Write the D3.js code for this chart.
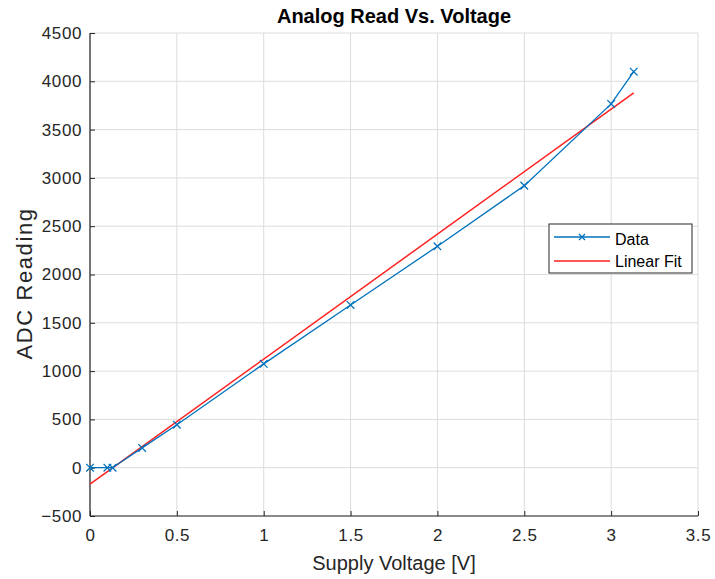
<!DOCTYPE html>
<html>
<head>
<meta charset="utf-8">
<script src="https://cdn.jsdelivr.net/npm/d3@7"></script>
<style>
  html, body { margin: 0; padding: 0; background: #fff; }
  svg { display: block; font-family: "Liberation Sans", Arial, sans-serif; }
</style>
</head>
<body>
<svg id="chart" width="715" height="579"></svg>
<script>
// Measured supply voltage vs. ADC reading
const voltage = [0, 0.1, 0.13, 0.3, 0.5, 1, 1.5, 2, 2.5, 3, 3.13];
const adc     = [0, 0, 0, 205, 445, 1075, 1685, 2292, 2920, 3766, 4100];

// Linear fit endpoints
const fitVoltage = [0, 3.13];
const fitAdc     = [-170, 3880];

const xTicks = [0, 0.5, 1, 1.5, 2, 2.5, 3, 3.5];
const yTicks = [-500, 0, 500, 1000, 1500, 2000, 2500, 3000, 3500, 4000, 4500];

const legendLabels = ["Data", "Linear Fit"];
const colors = { data: "#0072BD", fit: "#FF2020" };

const svg = d3.select("#chart");
const m = { left: 90, right: 17, top: 33, bottom: 63 };
const W = 715, H = 579;

const x = d3.scaleLinear().domain([0, 3.5]).range([m.left, W - m.right]);
const y = d3.scaleLinear().domain([-500, 4500]).range([H - m.bottom, m.top]);

// grid
const grid = svg.append("g");
grid.selectAll("line.gx").data(xTicks).join("line")
  .attr("x1", d => x(d)).attr("x2", d => x(d))
  .attr("y1", y(-500)).attr("y2", y(4500))
  .attr("stroke", "#dcdcdc").attr("stroke-width", 1);
grid.selectAll("line.gy").data(yTicks).join("line")
  .attr("x1", x(0)).attr("x2", x(3.5))
  .attr("y1", d => y(d)).attr("y2", d => y(d))
  .attr("stroke", "#dcdcdc").attr("stroke-width", 1);

// axes
const xAxis = d3.axisBottom(x).tickValues(xTicks).tickSize(-5).tickPadding(13)
  .tickFormat(d3.format("~g"));
const yAxis = d3.axisLeft(y).tickValues(yTicks).tickSize(-5).tickPadding(8)
  .tickFormat(d3.format("d"));

const gx = svg.append("g").attr("transform", `translate(0,${y(-500)})`).call(xAxis);
const gy = svg.append("g").attr("transform", `translate(${x(0)},0)`).call(yAxis);
[gx, gy].forEach(g => {
  g.select(".domain").attr("stroke", "#262626").attr("stroke-width", 1.2);
  g.selectAll(".tick line").attr("stroke", "#262626");
  g.selectAll(".tick text").attr("fill", "#262626").style("font-size", "17px")
    .style("letter-spacing", "0.6px")
    .style("font-family", "'Liberation Sans', Arial, sans-serif");
});
gy.select(".domain").attr("d", `M0,${y(-500)}V${y(4500)}`);
gx.select(".domain").attr("d", `M${x(0)},0H${x(3.5)}`);

// data line
const line = d3.line().x(d => x(d[0])).y(d => y(d[1]));
const pts = voltage.map((v, i) => [v, adc[i]]);
const fitPts = fitVoltage.map((v, i) => [v, fitAdc[i]]);

svg.append("path").datum(fitPts).attr("d", line)
  .attr("fill", "none").attr("stroke", colors.fit).attr("stroke-width", 1.5);

svg.append("path").datum(pts).attr("d", line)
  .attr("fill", "none").attr("stroke", colors.data).attr("stroke-width", 1.3);

function cross(g, cx, cy, s) {
  g.append("path").attr("d", `M${cx - s},${cy - s}L${cx + s},${cy + s}M${cx - s},${cy + s}L${cx + s},${cy - s}`)
    .attr("stroke", colors.data).attr("stroke-width", 1.3).attr("fill", "none");
}
const mk = svg.append("g");
pts.forEach(p => cross(mk, x(p[0]), y(p[1]), 3.8));

// title and axis labels
svg.append("text").attr("x", (x(0) + x(3.5)) / 2).attr("y", 23)
  .attr("text-anchor", "middle").attr("font-weight", "bold").attr("font-size", "20px")
  .attr("fill", "#000").text("Analog Read Vs. Voltage");
svg.append("text").attr("x", (x(0) + x(3.5)) / 2).attr("y", 570)
  .attr("text-anchor", "middle").attr("font-size", "20px").attr("fill", "#262626")
  .text("Supply Voltage [V]");
svg.append("text").attr("transform", `translate(32,${(y(-500) + y(4500)) / 2 + 9}) rotate(-90)`)
  .attr("text-anchor", "middle").attr("font-size", "22px").attr("fill", "#262626")
  .style("letter-spacing", "1.6px")
  .text("ADC Reading");

// legend
const lg = svg.append("g").attr("transform", "translate(549,224)");
lg.append("rect").attr("width", 143).attr("height", 49)
  .attr("fill", "#fff").attr("stroke", "#262626").attr("stroke-width", 1);
lg.append("line").attr("x1", 5).attr("x2", 61).attr("y1", 13).attr("y2", 13)
  .attr("stroke", colors.data).attr("stroke-width", 1.3);
cross(lg, 33, 13, 3);
lg.append("line").attr("x1", 5).attr("x2", 61).attr("y1", 37).attr("y2", 37)
  .attr("stroke", colors.fit).attr("stroke-width", 1.5);
lg.selectAll("text").data(legendLabels).join("text")
  .attr("x", 66).attr("y", (d, i) => 21 + i * 22)
  .attr("font-size", "16px").attr("fill", "#000").text(d => d);
</script>
</body>
</html>
